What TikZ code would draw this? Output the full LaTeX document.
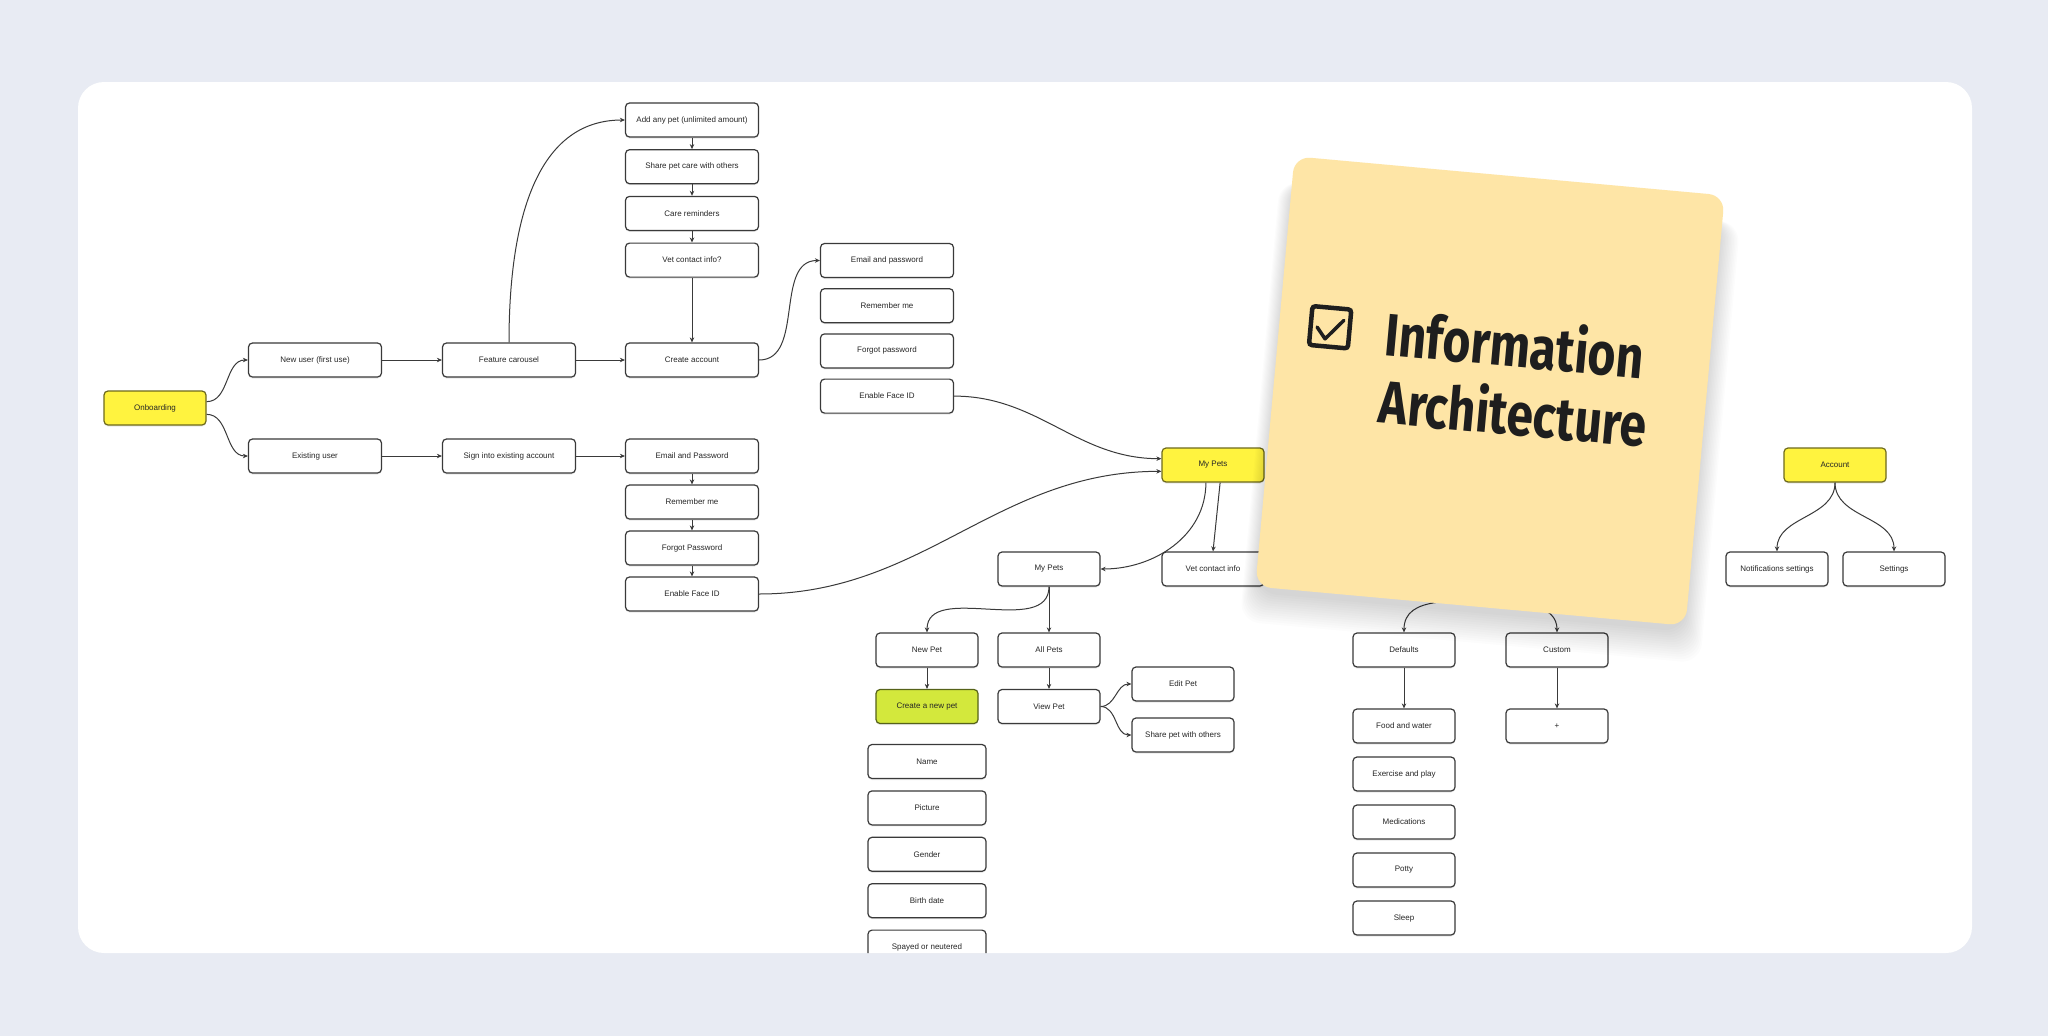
\documentclass[tikz,border=0pt]{standalone}
\usepackage{fontspec}
\setmainfont{Liberation Sans}
\newfontfamily\notefont[FakeStretch=0.8]{Fira Sans}
\usetikzlibrary{arrows.meta,shadows}

\definecolor{pagebg}{HTML}{E8EBF3}
\definecolor{linegray}{HTML}{3A3A3A}
\definecolor{rootfill}{HTML}{FFF33F}
\definecolor{rootline}{HTML}{6E6A1C}
\definecolor{pickfill}{HTML}{D3E83C}
\definecolor{pickline}{HTML}{566219}
\definecolor{notefill}{HTML}{FEE5A6}
\definecolor{noteink}{HTML}{1E1E1E}

\begin{document}
\begin{tikzpicture}[x=1pt, y=-1pt, ->, >={Stealth[length=5pt,width=4.5pt]}, node distance=46pt,
	every node/.style={font=\fontsize{8}{9}\selectfont, text=black!85},
	every edge/.style={draw=linegray, line width=1pt},
	box/.style={shape=rectangle, rounded corners=4pt, draw=linegray, line width=1.2pt, fill=white,
		minimum width=102pt, minimum height=34pt, inner sep=0pt,
		drop shadow={shadow xshift=0pt, shadow yshift=-1.5pt, opacity=0.18}},
	wide/.style={box, minimum width=133pt},
	list/.style={box, minimum width=118pt},
	root/.style={box, fill=rootfill, draw=rootline},
	pick/.style={box, fill=pickfill, draw=pickline}]

\fill[pagebg] (0,0) rectangle (2048,1036);
\fill[white, rounded corners=26pt] (78,82) rectangle (1972,953);
\useasboundingbox (0,0) rectangle (2048,1036);

\begin{scope}
\clip[rounded corners=26pt] (78,82) rectangle (1972,953);

\node[root] (ob) at (155,408) {Onboarding};
\node[wide] (nu) at (315,360) {New user (first use)};
\node[wide] (eu) at (315,456) {Existing user};
\node[wide] (fc) at (509,360) {Feature carousel};
\node[wide] (si) at (509,456) {Sign into existing account};
\node[wide] (ca) at (692,360) {Create account};

\node[wide] (anyp) at (692,120) {Add any pet (unlimited amount)};
\node[wide, node distance=46.7pt] (share) [below of=anyp] {Share pet care with others};
\node[wide, node distance=46.7pt] (remind) [below of=share] {Care reminders};
\node[wide, node distance=46.7pt] (vetq) [below of=remind] {Vet contact info?};

\node[wide] (mail) at (692,456) {Email and Password};
\node[wide] (remb) [below of=mail] {Remember me};
\node[wide] (forg) [below of=remb] {Forgot Password};
\node[wide] (face) [below of=forg] {Enable Face ID};

\node[wide] (mail2) at (887,260.5) {Email and password};
\node[wide, node distance=45.2pt] (remb2) [below of=mail2] {Remember me};
\node[wide, node distance=45.2pt] (forg2) [below of=remb2] {Forgot password};
\node[wide, node distance=45.2pt] (face2) [below of=forg2] {Enable Face ID};

\node[root] (pets) at (1213,465) {My Pets};
\node[box] (pets2) at (1049,569) {My Pets};
\node[box] (vet) at (1213,569) {Vet contact info};
\node[box] (newp) at (927,650) {New Pet};
\node[box] (allp) at (1049,650) {All Pets};
\node[pick] (create) at (927,706.5) {Create a new pet};
\node[box] (view) at (1049,706.5) {View Pet};
\node[box] (edit) at (1183,684) {Edit Pet};
\node[box] (sharep) at (1183,735) {Share pet with others};

\node[list] (name) at (927,761.5) {Name};
\node[list, node distance=46.4pt] (pict) [below of=name] {Picture};
\node[list, node distance=46.4pt] (gend) [below of=pict] {Gender};
\node[list, node distance=46.4pt] (birth) [below of=gend] {Birth date};
\node[list, node distance=46.4pt] (spay) [below of=birth] {Spayed or neutered};

\coordinate (care) at (1495,598);
\node[box] (defs) at (1404,650) {Defaults};
\node[box] (cust) at (1557,650) {Custom};
\node[box] (food) at (1404,726) {Food and water};
\node[box] (plus) at (1557,726) {+};
\node[box, node distance=48pt] (exer) [below of=food] {Exercise and play};
\node[box, node distance=48pt] (meds) [below of=exer] {Medications};
\node[box, node distance=48pt] (potty) [below of=meds] {Potty};
\node[box, node distance=48pt] (sleep) [below of=potty] {Sleep};

\node[root] (acct) at (1835,465) {Account};
\node[box] (notif) at (1777,569) {Notifications settings};
\node[box] (sett) at (1894,569) {Settings};

\path (ob.7) edge[out=0,in=180] (nu.west)
	(ob.-7) edge[out=0,in=180] (eu.west)
	(nu) edge (fc)
	(fc) edge (ca)
	(fc.north) edge[out=90,in=180] (anyp.west)
	(anyp) edge (share)
	(share) edge (remind)
	(remind) edge (vetq)
	(vetq) edge (ca)
	(ca.east) edge[out=0,in=180] (mail2.west)
	(eu) edge (si)
	(si) edge (mail)
	(mail) edge (remb)
	(remb) edge (forg)
	(forg) edge (face)
	(face.east) edge[out=0,in=180] (pets.187)
	(face2.east) edge[out=0,in=180] (pets.173)
	(pets.-112) edge[out=-90,in=0] (pets2.east)
	(pets.-68) edge (vet.north)
	(pets2.south) edge[out=-90,in=90] (newp.north)
	(pets2) edge (allp)
	(newp) edge (create)
	(allp) edge (view)
	(view.east) edge[out=0,in=180] (edit.west)
	(view.east) edge[out=0,in=180] (sharep.west)
	(care) edge[out=188,in=90] (defs.north)
	(care) edge[out=-10,in=90] (cust.north)
	(defs) edge (food)
	(cust) edge (plus)
	(acct.south) edge[out=-90,in=90] (notif.north)
	(acct.south) edge[out=-90,in=90] (sett.north);
\end{scope}

\begin{scope}[shift={(1490,391)}, rotate=-5.2]
	\foreach \s in {1,...,14}
		\fill[black, opacity=0.012, rounded corners=20pt] (-213-1.1*\s,-190) rectangle (213+1.5*\s,220+2.3*\s);
	\fill[notefill, rounded corners=16pt] (-216,-216) rectangle (216,216);
	\draw[-, noteink, line width=4.5pt, rounded corners=3pt] (-184.5,-68.5) rectangle (-145.5,-29.5);
	\draw[-, noteink, line width=3.5pt, line cap=round, line join=round] (-178,-48) -- (-169,-37) -- (-152,-57);
	\node[transform shape, anchor=base west, inner sep=0pt, text=noteink, font=\notefont\bfseries\fontsize{60}{60}\selectfont] (ttl) at (-110,-26) {Information};
	\node[transform shape, anchor=base west, inner sep=0pt, text=noteink, font=\notefont\bfseries\fontsize{60}{60}\selectfont] (ttl2) at (-109,42) {Architecture};
\end{scope}
\end{tikzpicture}
\end{document}
